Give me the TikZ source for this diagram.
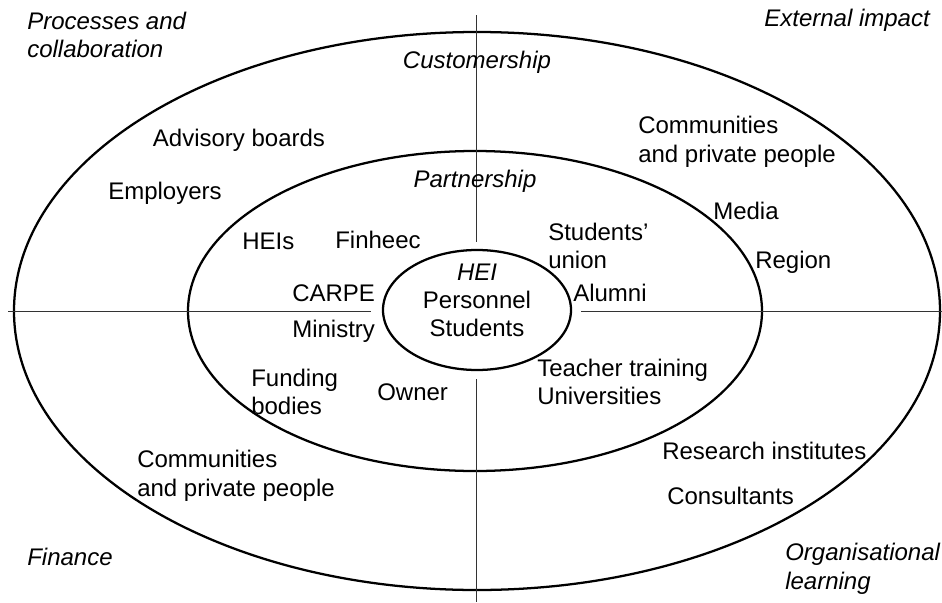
\documentclass[tikz,border=0pt]{standalone}
\usepackage{fontspec}
\setmainfont{Liberation Sans}
\usetikzlibrary{shapes.geometric}
\begin{document}
\begin{tikzpicture}[x=0.75pt, y=-0.75pt,
  ring/.style={draw, ellipse, line width=1.7pt, inner sep=0pt},
  axis/.style={line width=0.7pt, draw=black!80},
  lbl/.style={inner sep=0pt, font=\fontsize{18}{21.6}\selectfont, align=left},
  lblw/.style={lbl, anchor=west},
  field/.style={lbl, font=\fontsize{18}{21.6}\selectfont\itshape}]
\useasboundingbox (0,0) rectangle (942,603);

% three nested circles of stakeholders
\node[ring, minimum width=694.5pt, minimum height=418.5pt] (outer) at (477,311) {};
\node[ring, minimum width=430.5pt, minimum height=240pt] (inner) at (475,311) {};
\node[ring, minimum width=141pt, minimum height=90pt] (core) at (477,310) {};

% quadrant axes
\coordinate (vt1) at (476,15);   \coordinate (vt2) at (476,242);
\coordinate (vb1) at (476,379);  \coordinate (vb2) at (476,602);
\coordinate (hl1) at (8,311);    \coordinate (hl2) at (371,311);
\coordinate (hr1) at (581,311);  \coordinate (hr2) at (942,311);
\draw[axis] (vt1) -- (vt2);
\draw[axis] (vb1) -- (vb2);
\draw[axis] (hl1) -- (hl2);
\draw[axis] (hr1) -- (hr2);

% quadrant titles
\node[field, anchor=west] (q1) at (27,35) {Processes and\\collaboration};
\node[field, anchor=east] (q2) at (930,20) {External impact};
\node[field, anchor=west] (q3) at (27,557) {Finance};
\node[field, anchor=west] (q4) at (785,569) {Organisational\\learning};

% ring titles
\node[field] (cust) at (477,62) {Customership};
\node[field] (part) at (475,181) {Partnership};

% core
\node[field] (hei) at (477,272) {HEI};
\node[lbl, align=center] (pers) at (477,314) {Personnel\\Students};

% outer ring
\node[lbl] (adv) at (239,140) {Advisory boards};
\node[lblw] (emp) at (108,193) {Employers};
\node[lblw] (comm1) at (638,142) {Communities\\and private people};
\node[lblw] (media) at (713,211) {Media};
\node[lblw] (region) at (755,262) {Region};
\node[lblw] (comm2) at (137,476) {Communities\\and private people};
\node[lblw] (res) at (662,451) {Research institutes};
\node[lblw] (cons) at (667,496) {Consultants};

% inner ring
\node[lblw] (heis) at (242,241) {HEIs};
\node[lblw] (finh) at (335,240) {Finheec};
\node[lblw] (su) at (548,246) {Students'\\union};
\node[lblw] (carpe) at (292,293) {CARPE};
\node[lblw] (alum) at (573,293) {Alumni};
\node[lblw] (min) at (292,331) {Ministry};
\node[lblw] (fund) at (251,392) {Funding\\bodies};
\node[lblw] (own) at (377,392) {Owner};
\node[lblw] (teach) at (537,382) {Teacher training\\Universities};
\end{tikzpicture}
\end{document}
